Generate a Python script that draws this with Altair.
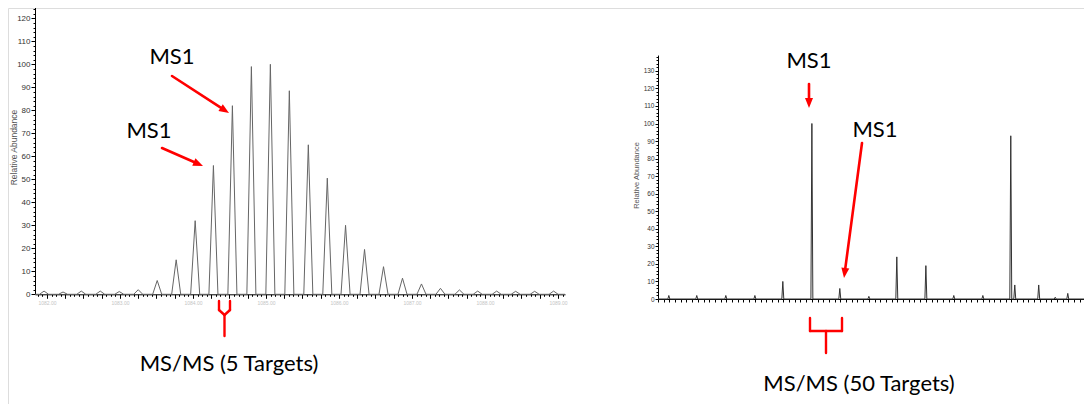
import altair as alt
import pandas as pd
import math

# ---------------- data ----------------
# Left spectrum: isotope envelope (m/z, relative abundance)
left_mz = [1081.96, 1082.22, 1082.47, 1082.73, 1082.99, 1083.25, 1083.51,
           1083.77, 1084.03, 1084.28, 1084.54, 1084.80, 1085.06, 1085.32,
           1085.58, 1085.84, 1086.09, 1086.35, 1086.61, 1086.87, 1087.13,
           1087.39, 1087.65, 1087.90, 1088.16, 1088.42, 1088.68, 1088.94]
left_abund = [1.4, 1.0, 1.4, 1.4, 1.2, 2.0, 6.0, 15.0, 32.0, 56.0, 82.0, 99.0,
              100.0, 88.5, 65.0, 50.5, 30.0, 19.5, 12.0, 7.0, 4.5, 2.6, 1.9,
              1.4, 1.4, 1.3, 1.3, 1.4]

# Right spectrum: wide window (m/z, relative abundance)
right_mz = [319, 368, 419, 470, 519, 570, 619, 670, 719, 770, 819, 870,
            919, 926, 968, 997, 1019]
right_abund = [2.0, 2.0, 2.0, 2.0, 10.0, 100.0, 6.0, 1.5, 24.0, 19.0, 2.0,
               2.0, 93.0, 8.0, 8.0, 1.0, 3.2]

y_title = "Relative Abundance"
ms1 = "MS1"
left_caption = "MS/MS (5 Targets)"
right_caption = "MS/MS (50 Targets)"

# ---------------- layout (chart pixel space) ----------------
W, H = 1076, 396
LEFT_X_DOMAIN = [1081.836, 1089.096]
RIGHT_X_DOMAIN = [300, 1058]
LEFT_Y_DOMAIN = [0, 126]
RIGHT_Y_DOMAIN = [0, 139]
L_X0, L_X1, L_Y0 = 27, 557, 286.3
R_X0, R_X1, R_Y0 = 650, 1082, 291.0
L_PX_PER_UNIT = 2.3
R_PX_PER_UNIT = 1.755
LEFT_HALF = 0.062     # peak half-width (m/z)
RIGHT_HALF = 1.7
RED = "#ff0000"


def profile(mz, ab, half, lo, hi):
    rows = [{"mz": lo, "ab": 0.0}]
    for m, a in zip(mz, ab):
        rows += [{"mz": m - half, "ab": 0.0}, {"mz": m, "ab": a},
                 {"mz": m + half, "ab": 0.0}]
    rows.append({"mz": hi, "ab": 0.0})
    return pd.DataFrame(rows)


left_df = profile(left_mz, left_abund, LEFT_HALF, *LEFT_X_DOMAIN)
right_df = profile(right_mz, right_abund, RIGHT_HALF, *RIGHT_X_DOMAIN)

left_x_scale = alt.Scale(domain=LEFT_X_DOMAIN, range=[L_X0, L_X1], nice=False, zero=False)
left_y_scale = alt.Scale(domain=LEFT_Y_DOMAIN,
                         range=[L_Y0, L_Y0 - LEFT_Y_DOMAIN[1] * L_PX_PER_UNIT], nice=False)
right_x_scale = alt.Scale(domain=RIGHT_X_DOMAIN, range=[R_X0, R_X1], nice=False, zero=False)
right_y_scale = alt.Scale(domain=RIGHT_Y_DOMAIN,
                          range=[R_Y0, R_Y0 - RIGHT_Y_DOMAIN[1] * R_PX_PER_UNIT], nice=False)

left_x_ticks = [1081 + 0.875 + k / 16 for k in range(0, 117)]
left_x_ticks = [t for t in left_x_ticks if LEFT_X_DOMAIN[0] <= t <= LEFT_X_DOMAIN[1]]
right_x_ticks = list(range(300, 1059, 10))

axis_font = "Liberation Sans"

left_x_axis = alt.Axis(
    orient="bottom", offset=L_Y0 - H, values=left_x_ticks, title=None, grid=False,
    labelExpr="datum.value % 1 === 0 ? format(datum.value, '.2f') : ''",
    labelFontSize=5, labelColor="#c4c4c4", labelFont=axis_font, labelPadding=2,
    labelOverlap=False, labelFlush=False, labelBound=False,
    tickSize={"condition": {"test": "datum.value % 0.25 === 0", "value": 4}, "value": 2},
    tickColor="#000000", domainColor="#000000", domainWidth=1, tickWidth=1)

left_y_axis = alt.Axis(
    orient="left", offset=-L_X0, values=list(range(0, 127, 2)), grid=False,
    labelExpr="datum.value % 10 === 0 ? datum.label : ''",
    labelFontSize=8, labelColor="#333333", labelFont=axis_font, labelPadding=1,
    labelOverlap=False, labelFlush=False, labelBound=False,
    tickSize={"condition": {"test": "datum.value % 10 === 0", "value": 4}, "value": 2},
    tickColor="#000000", domainColor="#000000", domainWidth=1,
    title=y_title, titleFont=axis_font, titleFontSize=8.5, titleFontWeight="normal",
    titleColor="#555555", titleAngle=270, titleX=-17, titleY=139,
    titleBaseline="bottom", titleAlign="center")

right_x_axis = alt.Axis(
    orient="bottom", offset=R_Y0 - H, values=right_x_ticks, title=None, grid=False,
    labels=False, tickSize=3, tickColor="#000000", domainColor="#000000", domainWidth=1)

right_y_axis = alt.Axis(
    orient="left", offset=-R_X0, values=list(range(0, 139, 2)), grid=False,
    labelExpr="datum.value % 10 === 0 ? datum.label : ''",
    labelFontSize=6.5, labelColor="#333333", labelFont=axis_font, labelPadding=1,
    labelOverlap=False, labelFlush=False, labelBound=False,
    tickSize={"condition": {"test": "datum.value % 10 === 0", "value": 3}, "value": 2},
    tickColor="#000000", domainColor="#000000", domainWidth=1,
    title=y_title, titleFont=axis_font, titleFontSize=7.5, titleFontWeight="normal",
    titleColor="#555555", titleAngle=270, titleX=-18, titleY=167,
    titleBaseline="bottom", titleAlign="center")

left_line = alt.Chart(left_df).mark_line(color="#666666", strokeWidth=1).encode(
    x=alt.X("mz:Q", scale=left_x_scale, axis=left_x_axis),
    y=alt.Y("ab:Q", scale=left_y_scale, axis=left_y_axis),
)
right_line = alt.Chart(right_df).mark_line(color="#333333", strokeWidth=1).encode(
    x=alt.X("mz:Q", scale=right_x_scale, axis=right_x_axis),
    y=alt.Y("ab:Q", scale=right_y_scale, axis=right_y_axis),
)

# ---------------- annotations (pixel positions, screen - 8) ----------------
def c(v):
    return v - 8

arrows = [  # (x_start, y_start, x_tip, y_tip) in screen px
    (172, 76, 229, 113),
    (162, 148, 203, 166),
    (809, 84, 809, 108),
    (862, 143, 844, 278),
]
HEAD_LEN = 10
seg_rows, head_rows = [], []
for (xs, ys, xt, yt) in arrows:
    dx, dy = xt - xs, yt - ys
    L = math.hypot(dx, dy)
    ux, uy = dx / L, dy / L
    bx, by = xt - ux * HEAD_LEN * 0.8, yt - uy * HEAD_LEN * 0.8
    seg_rows.append({"x": c(xs), "y": c(ys), "x2": c(bx), "y2": c(by), "w": 2.6})
    ang = math.degrees(math.atan2(dx, -dy)) % 360
    head_rows.append({"x": c(xt - ux * HEAD_LEN / 2), "y": c(yt - uy * HEAD_LEN / 2),
                      "angle": ang})

brackets = [  # screen px segments
    (219, 301, 219, 310), (219, 310, 224.5, 315), (230, 301, 230, 310),
    (230, 310, 224.5, 315), (224.5, 315, 224.5, 336),
    (810, 318, 810, 331), (810, 331, 842, 331), (842, 318, 842, 331),
    (826, 331, 826, 353),
]
for (x1, y1, x2, y2) in brackets:
    seg_rows.append({"x": c(x1), "y": c(y1), "x2": c(x2), "y2": c(y2), "w": 2.4})

seg_df = pd.DataFrame(seg_rows)
head_df = pd.DataFrame(head_rows)

text_df = pd.DataFrame([
    {"x": c(172), "y": c(57), "t": ms1},
    {"x": c(149), "y": c(131), "t": ms1},
    {"x": c(809), "y": c(61), "t": ms1},
    {"x": c(875), "y": c(130), "t": ms1},
    {"x": c(229), "y": c(364), "t": left_caption},
    {"x": c(859), "y": c(384), "t": right_caption},
])

seg_layer = alt.Chart(seg_df).mark_rule(color=RED, strokeCap="round").encode(
    x=alt.X("x:Q", scale=None), y=alt.Y("y:Q", scale=None),
    x2="x2:Q", y2="y2:Q", strokeWidth=alt.StrokeWidth("w:Q", scale=None, legend=None),
)
head_layer = alt.Chart(head_df).mark_point(
    shape="M0,-1L0.8,1L-0.8,1Z", filled=True, color=RED, opacity=1, size=HEAD_LEN ** 2,
    strokeWidth=0,
).encode(
    x=alt.X("x:Q", scale=None), y=alt.Y("y:Q", scale=None),
    angle=alt.Angle("angle:Q", scale=None),
)
text_layer = alt.Chart(text_df).mark_text(
    font="Lato", fontSize=22, color="#000000", baseline="middle", align="center",
).encode(
    x=alt.X("x:Q", scale=None), y=alt.Y("y:Q", scale=None), text="t:N",
)

chart = alt.layer(left_line, right_line, seg_layer, head_layer, text_layer).resolve_scale(
    x="independent", y="independent"
).resolve_axis(
    x="independent", y="independent"
).properties(
    width=W, height=H, padding=0, autosize=alt.AutoSizeParams(type="none"),
).configure_view(stroke="transparent", strokeWidth=0).configure(background="white")

chart.save("out.html", embed_options={"renderer": "svg", "actions": False})
